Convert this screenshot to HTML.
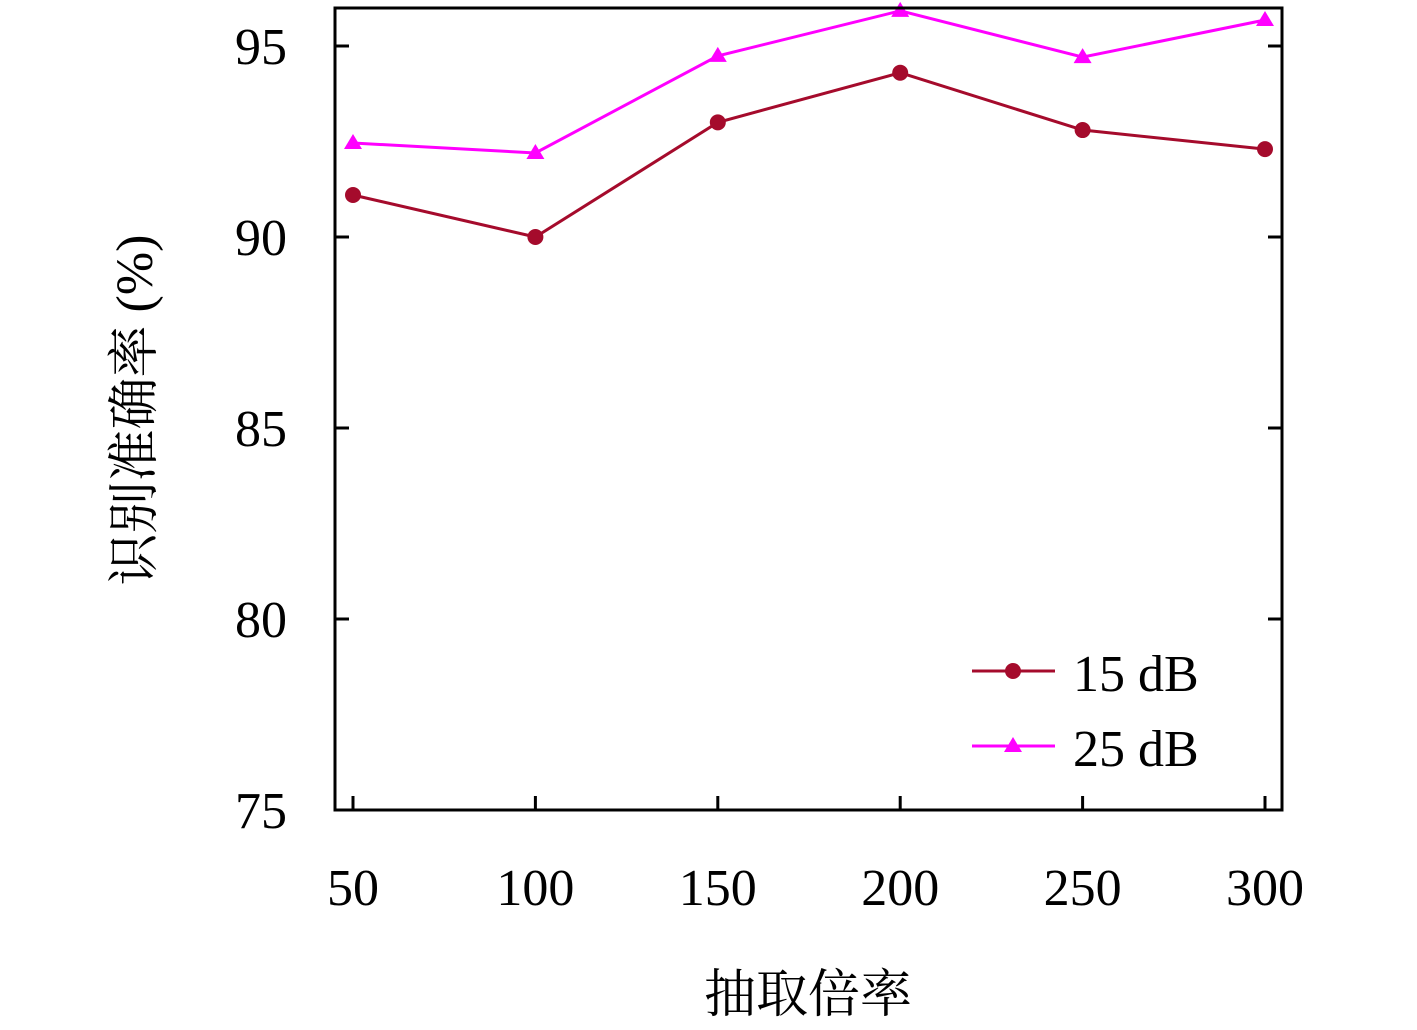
<!DOCTYPE html>
<html><head><meta charset="utf-8"><style>
html,body{margin:0;padding:0;background:#fff;}
svg text{font-family:"Liberation Serif","Noto Serif CJK SC",serif;fill:#000;}
</style></head><body>
<svg id="chart" width="1417" height="1025" viewBox="0 0 1417 1025">
<g id="grid"></g>
<g id="series"></g>
<rect x="335" y="8" width="947" height="802" fill="none" stroke="#000" stroke-width="3"/>
<text x="0" y="0" font-size="52" text-anchor="middle" transform="translate(152,410) rotate(-90)">识别准确率 (%)</text>
<text x="808" y="1012" font-size="52" text-anchor="middle">抽取倍率</text>
<g>
<g>
<line x1="972" y1="671" x2="1055" y2="671" stroke="#a50b2c" stroke-width="3"/>
<circle cx="1013" cy="671" r="8" fill="#a50b2c"/>
<text x="1073" y="691" font-size="52">15 dB</text>
</g>
<g>
<line x1="972" y1="746" x2="1055" y2="746" stroke="#ff00ff" stroke-width="3"/>
<polygon points="1013,737 1022,752 1004,752" fill="#ff00ff"/>
<text x="1073" y="766" font-size="52">25 dB</text>
</g>
</g>
</svg>
<script>
const categories = [50, 100, 150, 200, 250, 300];
const series15 = [91.1, 90.0, 93.0, 94.3, 92.8, 92.3];
const series25 = [92.46, 92.2, 94.74, 95.92, 94.71, 95.68];
const yTicks = [75, 80, 85, 90, 95];
const xTicks = [50, 100, 150, 200, 250, 300];

const NS = "http://www.w3.org/2000/svg";
const X = v => 353 + (v - 50) * (1265 - 353) / 250;
const Y = v => 810 - (v - 75) * (810 - 46) / 20;
const svg = document.getElementById('chart');
const grid = document.getElementById('grid');
const ser = document.getElementById('series');
function mk(tag, attrs, parent) {
  const e = document.createElementNS(NS, tag);
  for (const k in attrs) e.setAttribute(k, attrs[k]);
  parent.appendChild(e);
  return e;
}
yTicks.forEach(t => {
  const y = Y(t);
  const a = mk('line', {x1: 335, x2: 349, y1: y, y2: y, stroke: '#000', 'stroke-width': 3}, grid);
  
  
  const b = mk('line', {x1: 1268, x2: 1282, y1: y, y2: y, stroke: '#000', 'stroke-width': 3}, grid);
  
  
  const tx = mk('text', {x: 287, y: y + 18, 'font-size': 52, 'text-anchor': 'end'}, grid);
  tx.textContent = t;
  
  
});
xTicks.forEach(t => {
  const x = X(t);
  const a = mk('line', {x1: x, x2: x, y1: 796, y2: 810, stroke: '#000', 'stroke-width': 3}, grid);
  
  
  const tx = mk('text', {x: x, y: 905, 'font-size': 52, 'text-anchor': 'middle'}, grid);
  tx.textContent = t;
  
  
});
function drawSeries(vals, color, marker, name) {
  const pts = vals.map((v, i) => X(categories[i]) + ',' + Y(v)).join(' ');
  const pl = mk('polyline', {points: pts, fill: 'none', stroke: color, 'stroke-width': 3}, ser);
  
  
  vals.forEach((v, i) => {
    const x = X(categories[i]), y = Y(v);
    let m;
    if (marker === 'circle') m = mk('circle', {cx: x, cy: y, r: 8, fill: color}, ser);
    else m = mk('polygon', {points: `${x},${y-9} ${x+9},${y+6} ${x-9},${y+6}`, fill: color}, ser);
    
    
  });
}
drawSeries(series15, '#a50b2c', 'circle', 'series-15db');
drawSeries(series25, '#ff00ff', 'triangle', 'series-25db');
</script>
</body></html>
